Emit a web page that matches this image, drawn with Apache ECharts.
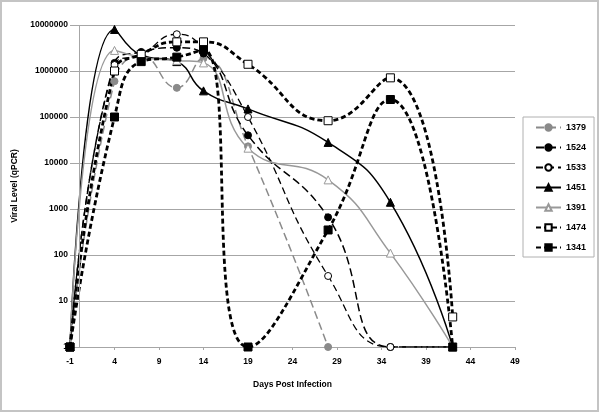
<!DOCTYPE html>
<html>
<head>
<meta charset="utf-8">
<script src="https://cdn.jsdelivr.net/npm/echarts@6/dist/echarts.min.js"></script>
<style>
  html, body { margin: 0; padding: 0; background: #fff; }
  #main { width: 600px; height: 413px; }
</style>
</head>
<body>
<div id="main"></div>
<script>
  // days post infection (x) and viral level per animal (qPCR), 1 = undetected
  const days = [-1, 4, 7, 11, 14, 19, 28, 35, 42]
  const v1379 = [1, 600000, 2200000, 430000, 1900000, 23000, 1, null, null]
  const v1524 = [1, 1500000, 2600000, 3200000, 2400000, 40000, 660, 1, 1]
  const v1533 = [1, 1350000, 2300000, 6300000, 3000000, 100000, 35, 1, 1]
  const v1451 = [1, 8000000, 2200000, 1600000, 370000, 150000, 28000, 1400, 1]
  const v1391 = [1, 2800000, 2000000, 1700000, 1500000, 21000, 4300, 110, 1]
  const v1474 = [1, 1000000, 2300000, 4300000, 4300000, 1400000, 83000, 710000, 4.5]
  const v1341 = [1, 100000, 1600000, 2000000, 2900000, 1, 350, 240000, 1]
  const xTicks = [-1, 4, 9, 14, 19, 24, 29, 34, 39, 44, 49]
  const yTicks = [1, 10, 100, 1000, 10000, 100000, 1000000, 10000000]

  const font = 'Liberation Sans, Arial, sans-serif'
  const grey = '#8a8a8a'

  function pairs(vals) {
    const out = []
    vals.forEach((v, i) => {
      if (v !== null) out.push([days[i], v])
    })
    return out
  }

  function makeSeries(name, vals, color, dash, width, symbol, size, fill) {
    return {
      name: name,
      type: 'line',
      data: pairs(vals),
      smooth: 0.5,
      symbol: symbol,
      symbolSize: size,
      lineStyle: { color: color, width: width, type: dash },
      itemStyle: { color: fill, borderColor: color, borderWidth: 1 },
      emphasis: { disabled: true },
    }
  }

  const series = [
    makeSeries('1379', v1379, grey, [8, 4], 1.5, 'circle', 7, grey),
    makeSeries('1524', v1524, '#000', [8, 4], 1.5, 'circle', 7, '#000'),
    makeSeries('1533', v1533, '#000', [7, 4], 1.3, 'circle', 7, '#fff'),
    makeSeries('1451', v1451, '#000', 'solid', 1.5, 'triangle', 8, '#000'),
    makeSeries('1391', v1391, '#999', 'solid', 1.5, 'triangle', 8, '#fff'),
    makeSeries('1474', v1474, '#000', [5, 3], 2.8, 'rect', 8, '#fff'),
    makeSeries('1341', v1341, '#000', [5, 3], 2.8, 'rect', 8, '#000'),
  ]
  // vertical axis line crosses at day 0
  series[0].markLine = {
    silent: true,
    symbol: 'none',
    label: { show: false },
    lineStyle: { color: '#a6a6a6', type: 'solid', width: 1 },
    data: [{ xAxis: 0 }],
  }

  const chart = echarts.init(document.getElementById('main'))
  chart.setOption({
    backgroundColor: '#fff',
    animation: false,
    graphic: [{
      type: 'rect',
      shape: { x: 1, y: 1, width: 597, height: 410 },
      style: { fill: 'none', stroke: '#c4c4c4', lineWidth: 2 },
      silent: true,
    }],
    grid: { left: 70, top: 25, width: 445, height: 322 },
    legend: {
      orient: 'vertical',
      left: 523,
      top: 117,
      padding: [6, 8, 5, 12],
      borderColor: '#b0b0b0',
      borderWidth: 1,
      itemWidth: 25,
      itemHeight: 8,
      itemGap: 11,
      textStyle: { fontFamily: font, fontSize: 9, fontWeight: 'bold', color: '#000' },
      data: series.map(s => s.name),
    },
    xAxis: {
      type: 'value',
      min: -1,
      max: 49,
      name: 'Days Post Infection',
      nameLocation: 'middle',
      nameGap: 33,
      nameTextStyle: { fontFamily: font, fontSize: 8.5, fontWeight: 'bold', color: '#000' },
      axisLine: { onZero: false, lineStyle: { color: '#a6a6a6', width: 1 } },
      axisTick: { customValues: xTicks, length: 3, lineStyle: { color: '#a6a6a6' } },
      axisLabel: {
        customValues: xTicks,
        margin: 10,
        fontFamily: font, fontSize: 8.5, fontWeight: 'bold', color: '#000',
      },
      splitLine: { show: false },
    },
    yAxis: {
      type: 'log',
      logBase: 10,
      min: 1,
      max: 10000000,
      name: 'Viral Level (qPCR)',
      nameLocation: 'middle',
      nameGap: 44,
      nameTextStyle: { fontFamily: font, fontSize: 8.5, fontWeight: 'bold', color: '#000' },
      axisLine: { show: false },
      axisTick: { show: false },
      axisLabel: {
        customValues: yTicks,
        margin: 2,
        fontFamily: font, fontSize: 8.5, fontWeight: 'bold', color: '#000',
        formatter: v => String(Math.round(v)),
      },
      splitLine: { lineStyle: { color: '#a6a6a6', width: 1 } },
      minorTick: { show: false },
    },
    series: series,
  })
</script>
</body>
</html>
